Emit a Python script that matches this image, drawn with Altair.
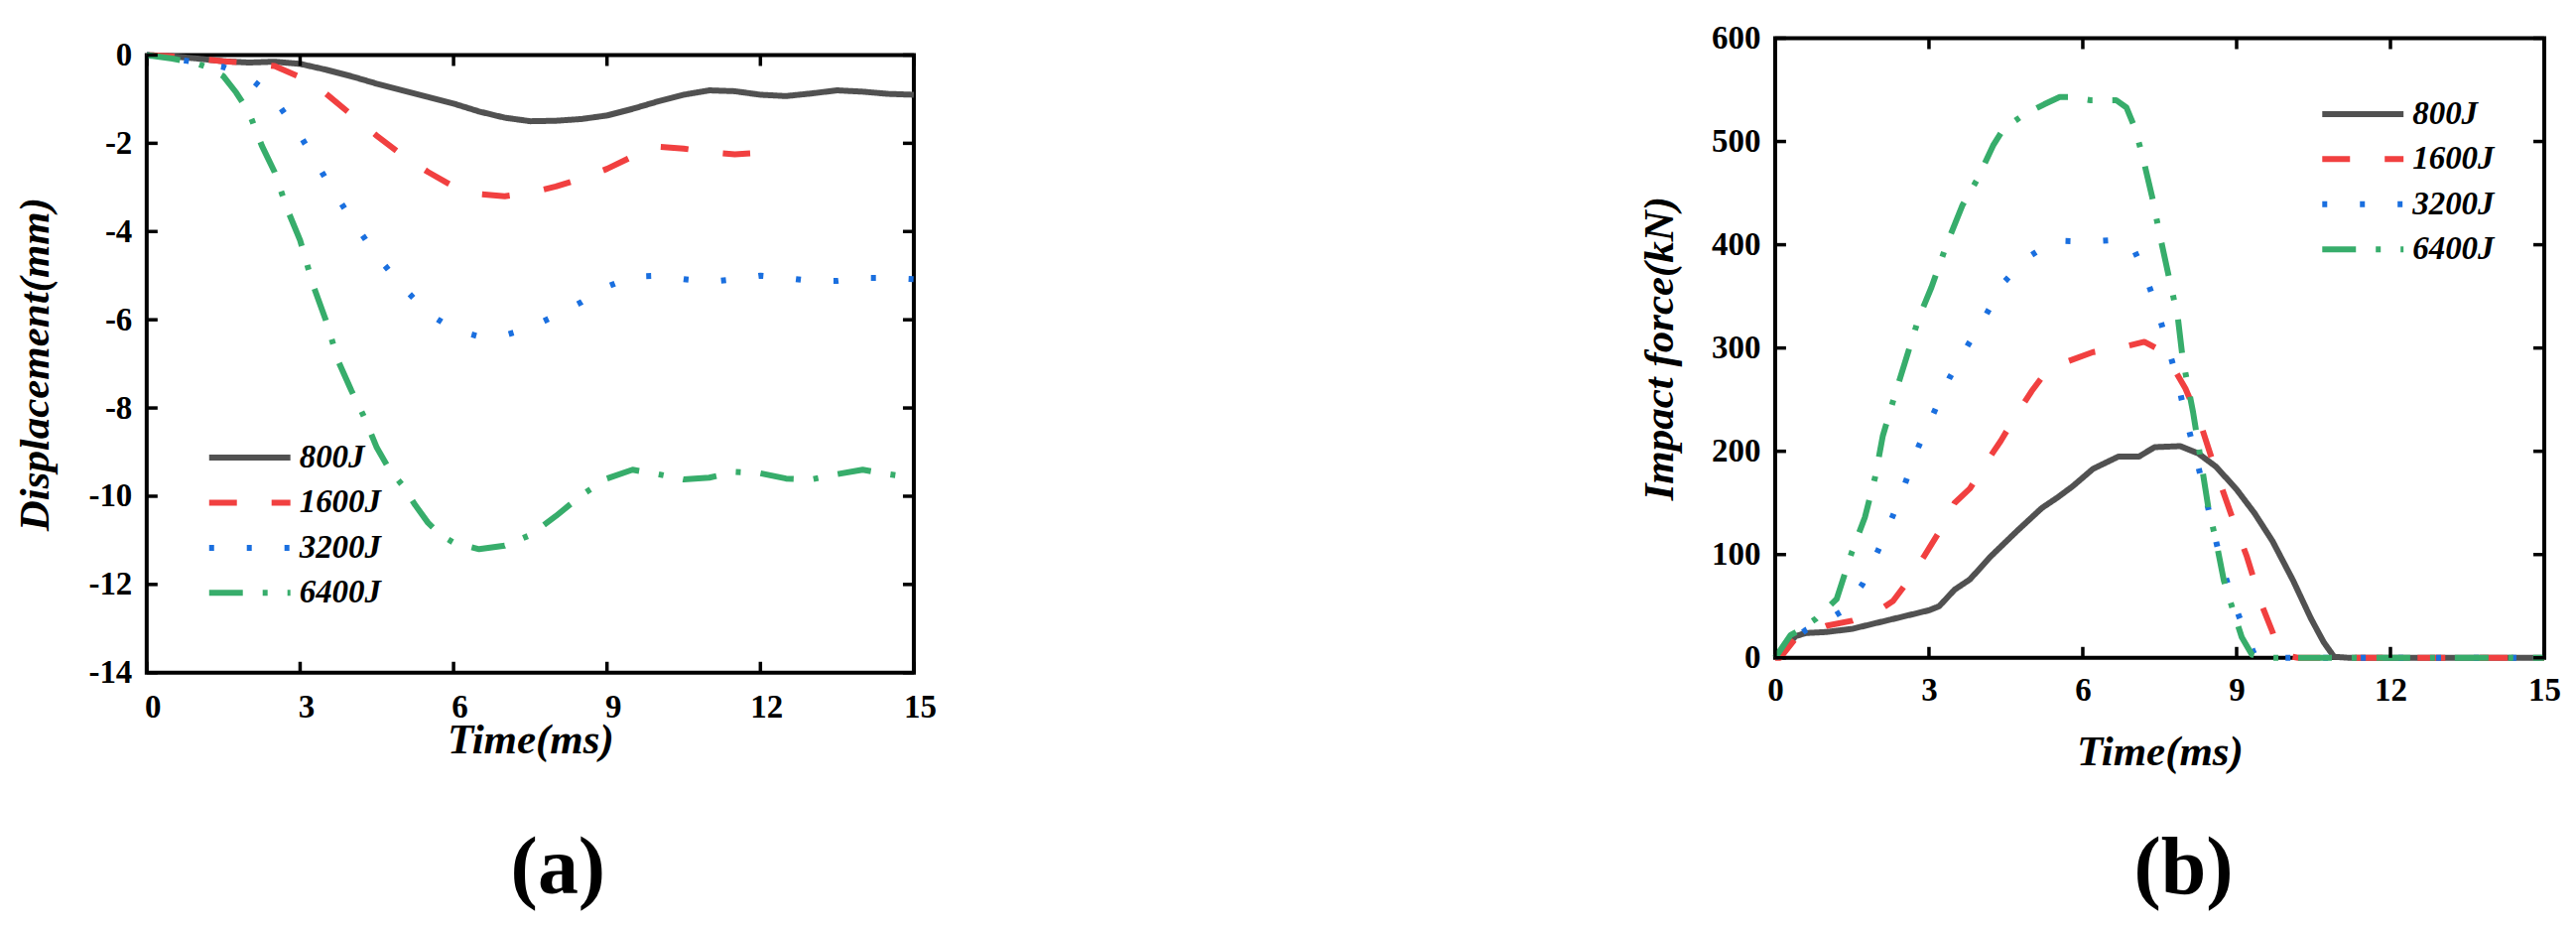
import altair as alt
import pandas as pd

FONT = "Liberation Serif"
series = ["800J", "1600J", "3200J", "6400J"]
colors = ["#515151", "#F14040", "#1A6FDF", "#37AD6B"]
dashes = [[1, 0], [28, 35], [5, 33], [34, 20, 5, 20]]

x_ticks = [0, 3, 6, 9, 12, 15]
ya_ticks = [0, -2, -4, -6, -8, -10, -12, -14]
yb_ticks = [0, 100, 200, 300, 400, 500, 600]

# ---------- (a) displacement ----------
a_t_800 = [0, 0.5, 1, 1.5, 2, 2.5, 3, 3.5, 4, 4.5, 5, 5.5, 6, 6.5, 7, 7.5, 8, 8.5, 9, 9.5,
           10, 10.5, 11, 11.5, 12, 12.5, 13, 13.5, 14, 14.5, 15]
a_v_800 = [0, -0.03, -0.08, -0.14, -0.17, -0.15, -0.2, -0.33, -0.48, -0.65, -0.8, -0.95, -1.1,
           -1.28, -1.42, -1.5, -1.49, -1.45, -1.37, -1.22, -1.05, -0.9, -0.8, -0.82, -0.9, -0.93,
           -0.87, -0.8, -0.83, -0.88, -0.9]
a_t_1600 = [0, 0.5, 1, 1.5, 2, 2.5, 3, 3.5, 4, 4.5, 5, 5.5, 6, 6.5, 7, 7.5, 8, 8.5, 9, 9.5,
            10, 10.5, 11, 11.5, 11.8]
a_v_1600 = [0, -0.03, -0.08, -0.14, -0.18, -0.25, -0.5, -0.87, -1.35, -1.83, -2.27, -2.65,
            -2.98, -3.15, -3.2, -3.12, -2.98, -2.8, -2.58, -2.3, -2.08, -2.12, -2.2, -2.25, -2.23]
a_t_3200 = [0, 0.5, 1, 1.5, 2, 2.5, 3, 3.5, 4, 4.5, 5, 5.5, 6, 6.5, 7, 7.5, 8, 8.5, 9, 9.5,
            10, 10.5, 11, 11.5, 12, 12.5, 13, 13.5, 14, 14.5, 15]
a_v_3200 = [0, -0.08, -0.17, -0.27, -0.5, -1.0, -1.82, -2.8, -3.72, -4.55, -5.25, -5.85, -6.22,
            -6.38, -6.35, -6.18, -5.9, -5.6, -5.25, -5.02, -5.0, -5.08, -5.14, -5.08, -5.0,
            -5.05, -5.12, -5.12, -5.05, -5.05, -5.08]
a_t_6400 = [0, 0.5, 1, 1.25, 1.5, 1.75, 2, 2.25, 2.5, 2.75, 3, 3.25, 3.5, 3.75, 4, 4.25, 4.5,
            4.75, 5, 5.25, 5.5, 5.75, 6, 6.5, 7, 7.5, 8, 8.5, 9, 9.5, 10, 10.5, 11, 11.5, 12,
            12.5, 13, 13.5, 14, 14.5, 15]
a_v_6400 = [0, -0.08, -0.2, -0.3, -0.48, -0.85, -1.3, -2.05, -2.65, -3.5, -4.2, -5.2, -6.0,
            -6.95, -7.6, -8.2, -8.9, -9.4, -9.75, -10.2, -10.6, -10.88, -11.05, -11.2, -11.12,
            -10.88, -10.45, -9.98, -9.6, -9.4, -9.5, -9.62, -9.58, -9.45, -9.48, -9.6, -9.62,
            -9.5, -9.4, -9.5, -9.58]

# ---------- (b) impact force ----------
b_t_800 = [0, 0.2, 0.4, 0.6, 1, 1.5, 2, 2.5, 3, 3.2, 3.5, 3.8, 4.2, 4.7, 5.2, 5.5, 5.8, 6.2,
           6.7, 7.1, 7.4, 7.9, 8.25, 8.6, 9.0, 9.35, 9.7, 10.1, 10.45, 10.7, 10.9, 11.2, 15]
b_f_800 = [0, 10, 21, 24, 25, 28, 34, 40, 46, 50, 66, 76, 98, 122, 145, 155, 166, 183, 195,
           195, 204, 205, 198, 185, 163, 140, 113, 75, 38, 15, 1, 0, 0]
b_t_1600 = [0, 0.1, 0.4, 1, 1.5, 2, 2.3, 2.6, 2.9, 3.2, 3.5, 3.8, 4.1, 4.4, 4.7, 5.0, 5.3,
            5.7, 6.2, 6.8, 7.2, 7.5, 7.8, 8.0, 8.3, 8.6, 8.9, 9.2, 9.5, 9.7, 9.85, 10.2, 15]
b_f_1600 = [0, 0, 19, 31, 36, 45, 55, 75, 98, 122, 150, 164, 188, 210, 235, 258, 278, 287,
            296, 301, 306, 298, 278, 261, 226, 180, 138, 98, 50, 25, 3, 0, 0]
b_t_3200 = [0, 0.3, 0.6, 1.0, 1.3, 1.7, 2.0, 2.3, 2.55, 2.8, 3.1, 3.4, 3.75, 4.1, 4.45, 4.9,
            5.45, 6.1, 6.8, 7.0, 7.2, 7.45, 7.65, 7.85, 8.0, 8.2, 8.37, 8.53, 8.7, 8.92, 9.17,
            9.35, 9.6, 15]
b_f_3200 = [0, 15, 27, 36, 45, 71, 103, 138, 171, 205, 238, 271, 302, 331, 363, 387, 404, 403,
            405, 395, 373, 338, 303, 268, 234, 196, 161, 127, 92, 57, 24, 3, 0, 0]
b_t_6400 = [0, 0.3, 0.45, 0.8, 1.2, 1.5, 1.75, 1.95, 2.1, 2.35, 2.55, 2.8, 3.05, 3.35, 3.65,
            3.95, 4.25, 4.45, 4.85, 5.25, 5.55, 5.75, 6.15, 6.65, 6.85, 7.0, 7.15, 7.35, 7.5,
            7.7, 7.85, 7.95, 8.15, 8.3, 8.45, 8.6, 8.75, 8.95, 9.1, 9.3, 9.5, 15]
b_f_6400 = [0, 22, 26, 38, 57, 103, 136, 175, 215, 257, 289, 329, 359, 401, 438, 464, 496, 512,
            526, 536, 543, 543, 540, 540, 533, 515, 489, 447, 410, 364, 331, 289, 238, 192,
            145, 113, 75, 43, 20, 3, 0, 0]


def frame(ts, vs):
    rows = []
    for name, t, v in zip(series, ts, vs):
        for ti, vi in zip(t, v):
            rows.append({"t": ti, "v": vi, "s": name})
    return pd.DataFrame(rows)


df_a = frame([a_t_800, a_t_1600, a_t_3200, a_t_6400], [a_v_800, a_v_1600, a_v_3200, a_v_6400])
df_b = frame([b_t_800, b_t_1600, b_t_3200, b_t_6400], [b_f_800, b_f_1600, b_f_3200, b_f_6400])


def panel(df, ydomain, yticks, ytitle, W, H, legx, legy, xlabpad, xtitleY, ytitleX, xlaboff,
          ttl, ttl_offset, ttl_dx):
    xscale = alt.Scale(domain=[0, 15], nice=False, zero=False)
    yscale = alt.Scale(domain=ydomain, nice=False, zero=False)
    xaxis = alt.Axis(values=x_ticks, title="Time(ms)", ticks=False, tickSize=0, domain=False,
                     grid=False, labelFont=FONT, labelFontSize=33, labelFontWeight="bold",
                     labelColor="black", labelPadding=xlabpad, labelFlush=False,
                     labelOverlap=False, labelOffset=xlaboff, titleFont=FONT, titleFontSize=43,
                     titleFontWeight="bold", titleFontStyle="italic", titleColor="black",
                     titleBaseline="alphabetic", titleY=xtitleY)
    yaxis = alt.Axis(values=yticks, title=ytitle, ticks=False, tickSize=0, domain=False,
                     grid=False, labelFont=FONT, labelFontSize=33, labelFontWeight="bold",
                     labelColor="black", labelPadding=15, labelFlush=False, labelOverlap=False,
                     labelExpr="(datum.value < 0 ? '-' : '') + abs(datum.value)",
                     titleFont=FONT, titleFontSize=43, titleFontWeight="bold",
                     titleFontStyle="italic", titleColor="black", titleAngle=270,
                     titleAlign="center", titleBaseline="alphabetic", titleX=ytitleX)
    leg = alt.Legend(title=None, orient="none", legendX=legx, legendY=legy, padding=0,
                     symbolType="stroke", symbolSize=6724, symbolStrokeWidth=6,
                     labelFont=FONT, labelFontSize=33, labelFontWeight="bold",
                     labelFontStyle="italic", labelColor="black", labelOffset=6,
                     clipHeight=33, rowPadding=11.5, labelBaseline="middle")
    lines = alt.Chart(df).mark_line(strokeWidth=6, strokeJoin="round").encode(
        x=alt.X("t:Q", scale=xscale, axis=xaxis),
        y=alt.Y("v:Q", scale=yscale, axis=yaxis),
        color=alt.Color("s:N", scale=alt.Scale(domain=series, range=colors), legend=leg,
                        sort=series),
        strokeDash=alt.StrokeDash("s:N", scale=alt.Scale(domain=series, range=dashes),
                                  legend=leg, sort=series),
    )
    xt = pd.DataFrame({"tick": x_ticks})
    yt = pd.DataFrame({"tick": yticks})
    tl = 11
    bottom = alt.Chart(xt).mark_rule(color="black", strokeWidth=3.5).encode(
        x=alt.X("tick:Q", scale=xscale, axis=xaxis), y=alt.value(H), y2=alt.value(H - tl))
    top = alt.Chart(xt).mark_rule(color="black", strokeWidth=3.5).encode(
        x=alt.X("tick:Q", scale=xscale, axis=xaxis), y=alt.value(0), y2=alt.value(tl))
    left = alt.Chart(yt).mark_rule(color="black", strokeWidth=3.5).encode(
        y=alt.Y("tick:Q", scale=yscale, axis=yaxis), x=alt.value(0), x2=alt.value(tl))
    right = alt.Chart(yt).mark_rule(color="black", strokeWidth=3.5).encode(
        y=alt.Y("tick:Q", scale=yscale, axis=yaxis), x=alt.value(W - tl), x2=alt.value(W))
    return alt.layer(lines, bottom, top, left, right).properties(
        width=W, height=H,
        title=alt.TitleParams(text=ttl, orient="bottom", anchor="middle", frame="group",
                              dx=ttl_dx, offset=ttl_offset, fontSize=82, font=FONT,
                              fontWeight="bold", color="black", baseline="alphabetic"),
    )


chart_a = panel(df_a, [-14, 0], ya_ticks, "Displacement(mm)", 774, 623, 60, 406.5,
                19, 81, -99, 6, "(a)", 133, 28)
chart_b = panel(df_b, [0, 600], yb_ticks, "Impact force(kN)", 776, 625, 549, 60,
                17, 108, -104, 0, "(b)", 121, 24)

spacer = alt.Chart(pd.DataFrame({"z": [0]})).mark_point(opacity=0).encode(
    x=alt.X("z:Q", axis=None), y=alt.Y("z:Q", axis=None)
).properties(width=774, height=17, view=alt.ViewBackground(strokeOpacity=0))

left_col = alt.vconcat(spacer, chart_a, spacing=0, bounds="flush")

# with flush bounds the nested column counts as zero-width, so the spacing spans
# the left plot width (774) plus the gap between the two plot areas (869)
chart = alt.hconcat(left_col, chart_b, spacing=1643, bounds="flush").resolve_scale(
    color="independent", strokeDash="independent"
).resolve_legend(
    color="independent", strokeDash="independent"
).properties(
    padding={"left": 5, "top": 12, "right": 5, "bottom": 5}
).configure(font=FONT).configure_view(stroke="black", strokeWidth=4)

chart.save("out.html", embed_options={"renderer": "svg", "actions": False})
